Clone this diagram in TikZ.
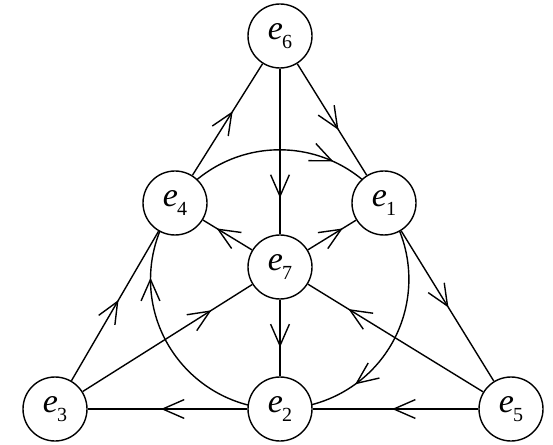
\documentclass[tikz,border=0pt]{standalone}
\usepackage{fontspec}
\setmainfont{Liberation Serif}
\usetikzlibrary{decorations.markings,backgrounds}
\newcommand\vlab[1]{\fontsize{34}{34}\selectfont\itshape e\kern-1pt\raisebox{-8.5pt}{\fontsize{20}{20}\selectfont\upshape #1}}
\tikzset{
 vert/.style={circle,draw,line width=1.4pt,minimum size=64pt,inner sep=0pt,fill=white},
 edge/.style={line width=1.4pt},
 barb/.style={postaction={decorate},decoration={markings,mark=at position #1 with {\draw[line width=1.4pt,line join=miter] (-21.5pt,9.4pt) -- (0pt,0pt) -- (-21.5pt,-9.4pt);}}},
}
\begin{document}
\begin{tikzpicture}[x=1pt,y=1pt]
\useasboundingbox (0,0) rectangle (553,444);
\node[vert] (e6) at (280,408) {\vlab{6}};
\node[vert] (e4) at (175,241) {\vlab{4}};
\node[vert] (e1) at (384,241) {\vlab{1}};
\node[vert] (e7) at (280,177) {\vlab{7}};
\node[vert] (e3) at (55,35) {\vlab{3}};
\node[vert] (e2) at (280,35) {\vlab{2}};
\node[vert] (e5) at (511,35) {\vlab{5}};
\draw[edge,barb=0.58] (e6) -- (e1);
\draw[edge,barb=0.56] (e4) -- (e6);
\draw[edge,barb=0.77] (e6) -- (e7);
\draw[edge,barb=0.6] (e7) -- (e2);
\draw[edge,barb=0.69] (e7) -- (e4);
\draw[edge,barb=0.69] (e7) -- (e1);
\draw[edge,barb=0.75] (e3) -- (e7);
\draw[edge,barb=0.76] (e5) -- (e7);
\draw[edge,barb=0.53] (e3) -- (e4);
\draw[edge,barb=0.5] (e1) -- (e5);
\draw[edge,barb=0.51] (e5) -- (e2);
\draw[edge,barb=0.53] (e2) -- (e3);
\begin{scope}[on background layer]
\draw[edge,barb=0.72] (e4.center) arc[start angle=143.9,end angle=36.1,radius=129.5];
\draw[edge,barb=0.71] (e1.center) arc[start angle=36.1,end angle=-90,radius=129.5];
\draw[edge,barb=0.714] (e2.center) arc[start angle=270,end angle=143.9,radius=129.5];
\end{scope}
\end{tikzpicture}
\end{document}
